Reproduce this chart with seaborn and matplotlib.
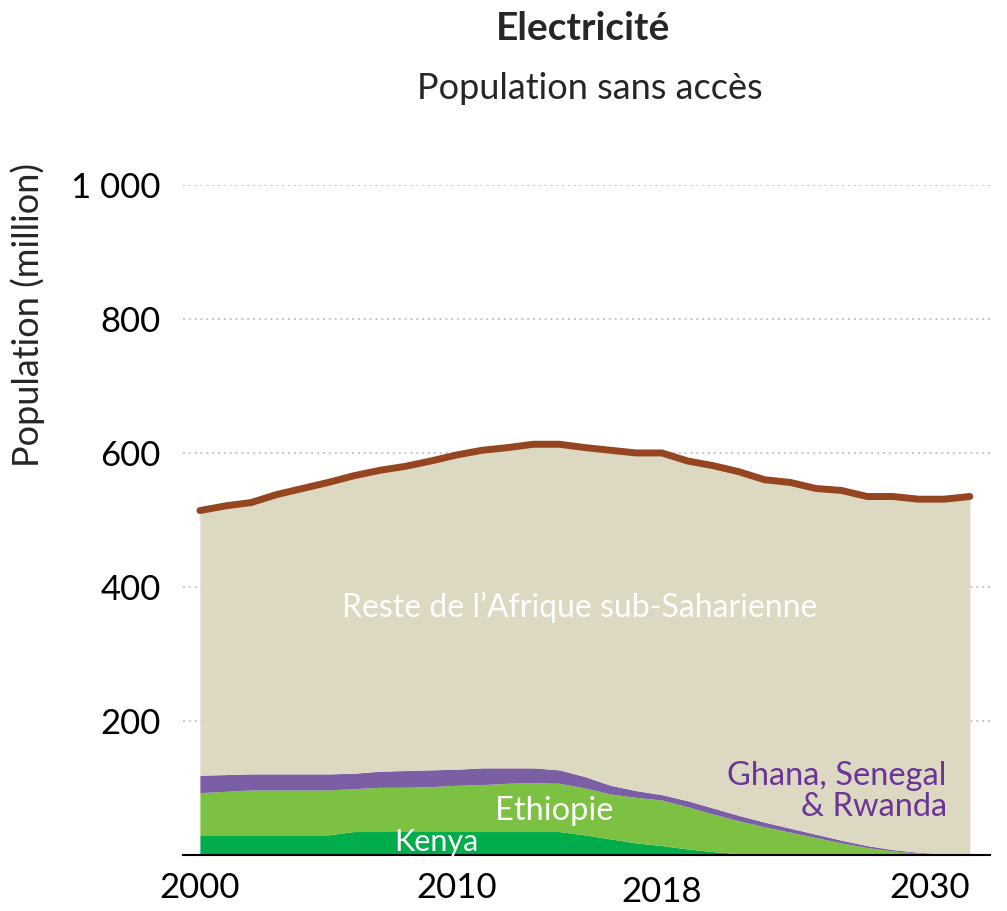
import numpy as np
import pandas as pd
import seaborn as sns
import matplotlib.pyplot as plt

years = list(range(2000, 2031))
total = [514, 521, 526, 538, 547, 556, 566, 574, 580, 588, 597, 604, 608, 613, 613, 608,
         604, 600, 600, 588, 581, 572, 560, 556, 547, 544, 535, 535, 531, 531, 535]
kenya = [30, 30, 30, 30, 30, 30, 35, 35, 35, 35, 35, 35, 35, 35, 35, 30,
         24, 18, 14, 9, 5, 2, 0.5, 0, 0, 0, 0, 0, 0, 0, 0]
ethiopie = [63, 65, 67, 67, 67, 67, 64, 66, 66, 67, 69, 70, 72, 73, 72, 70,
            67, 68, 68, 63, 56, 49, 41.5, 34, 26, 18, 11, 6, 3, 1, 0]
gsr = [26, 25, 24, 24, 24, 24, 23, 24, 25, 25, 24, 25, 23, 22, 20, 17,
       13, 10, 8, 9, 9, 8, 7, 6, 5, 4, 3, 2, 1, 0.5, 0]

df = pd.DataFrame({"annee": years, "total": total, "Kenya": kenya,
                   "Ethiopie": ethiopie, "GSR": gsr})
df["Reste"] = df.total - df.Kenya - df.Ethiopie - df.GSR

sns.set_theme(style="white")
plt.rcParams['font.family'] = ['Lato', 'DejaVu Sans']

fig = plt.figure(figsize=(10.07, 9.11), dpi=100)
ax = fig.add_axes([0.1817, 0.0615, 0.8013, 0.7355])

ax.stackplot(df.annee, df.Kenya, df.Ethiopie, df.GSR, df.Reste,
             colors=["#00AD4A", "#7DC142", "#7B5EA3", "#DDD8C2"], linewidth=0, zorder=2)
sns.lineplot(data=df, x="annee", y="total", ax=ax, color="#954520", linewidth=5,
             solid_capstyle="round", zorder=3)

ax.set_xlim(1999.34, 2030.78)
ax.set_ylim(0, 1000)
ax.set_yticks([200, 400, 600, 800, 1000])
ax.set_yticklabels(["200", "400", "600", "800", "1 000"])
ax.set_xticks([2000, 2010, 2018, 2030])
ax.set_xticklabels(["2000", "2010", "2018", "2030"])
ax.tick_params(axis="both", labelsize=25, length=0, colors="black")
ax.tick_params(axis="x", pad=12)
ax.tick_params(axis="y", pad=16)
xlabs = ax.get_xticklabels()
xlabs[2].set_y(-0.007)
xlabs[3].set_horizontalalignment("right")
xlabs[3].set_x(2030.2)

ax.yaxis.grid(True, linestyle=(0, (1, 2)), color="#C4C4C4", linewidth=1.4, zorder=0)
ax.set_axisbelow(True)
for s in ["left", "right", "top"]:
    ax.spines[s].set_visible(False)
ax.spines["bottom"].set_color("black")
ax.spines["bottom"].set_linewidth(1.5)
ax.spines["bottom"].set_zorder(4)

ax.set_xlabel("")
ax.set_ylabel("Population (million)", fontsize=26)
ax.yaxis.set_label_coords(-0.171, 0.806)

ax.text(2014.8, 370, "Reste de l\u2019Afrique sub-Saharienne", color="white",
        fontsize=23, ha="center", va="center", zorder=5)
ax.text(2013.8, 66, "Ethiopie", color="white", fontsize=23.5, ha="center", va="center", zorder=5)
ax.text(2009.2, 20, "Kenya", color="white", fontsize=22, ha="center", va="center", zorder=5)
ax.text(2029.1, 95, "Ghana, Senegal\n& Rwanda", color="#6A3597", fontsize=23.5,
        ha="right", va="center", multialignment="right", linespacing=1.05, zorder=5)

fig.text(0.579, 0.969, "Electricit\u00e9", fontsize=28, fontweight="bold", ha="center", va="center")
fig.text(0.586, 0.903, "Population sans acc\u00e8s", fontsize=26, ha="center", va="center")

fig.savefig("out.png", dpi=100)
